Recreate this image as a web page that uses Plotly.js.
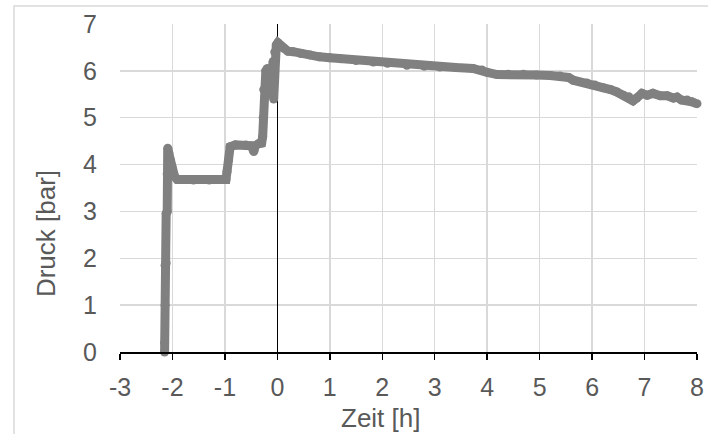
<!DOCTYPE html>
<html>
<head>
<meta charset="utf-8">
<script src="https://cdn.plot.ly/plotly-3.0.1.min.js"></script>
<style>html,body{margin:0;padding:0;background:#fff;}#chart{width:708px;height:434px;}</style>
</head>
<body>
<div id="chart"></div>
<script>
// Time in hours
const zeit = [
  -2.15, -2.15, -2.14, -2.14, -2.12, -2.12, -2.10, -2.10, -2.09, -2.07,
  -2.04, -2.01, -1.96, -1.91, -1.60, -1.30, -0.98, -0.96, -0.93, -0.90,
  -0.80, -0.60, -0.50, -0.45, -0.42, -0.35, -0.30, -0.28, -0.27, -0.26,
  -0.23, -0.22, -0.19, -0.17, -0.12, -0.08, -0.07, -0.05, -0.02, 0.01,
  0.05, 0.12, 0.20, 0.30, 0.45, 0.62, 0.80, 1.00, 1.20, 1.50,
  1.83, 2.10, 2.47, 2.80, 3.10, 3.40, 3.73, 3.90, 4.00, 4.19,
  4.40, 4.69, 4.94, 5.20, 5.39, 5.55, 5.64, 5.90, 6.05, 6.21,
  6.35, 6.47, 6.60, 6.70, 6.78, 6.85, 6.95, 7.05, 7.16, 7.30,
  7.43, 7.55, 7.62, 7.70, 7.81, 7.90, 8.00
];
// Pressure in bar
const druck = [
  0.00, 0.20, 1.00, 1.85, 1.90, 2.95, 3.00, 3.80, 4.35, 4.25,
  4.10, 3.95, 3.75, 3.68, 3.67, 3.67, 3.68, 3.85, 4.10, 4.38,
  4.42, 4.42, 4.40, 4.28, 4.40, 4.45, 4.46, 4.60, 5.00, 5.60,
  5.45, 6.00, 6.05, 5.50, 5.90, 6.20, 5.40, 6.40, 6.55, 6.60,
  6.55, 6.48, 6.42, 6.41, 6.37, 6.34, 6.30, 6.28, 6.26, 6.22,
  6.19, 6.16, 6.12, 6.10, 6.08, 6.07, 6.05, 6.02, 5.97, 5.92,
  5.93, 5.93, 5.91, 5.90, 5.89, 5.86, 5.80, 5.74, 5.70, 5.64,
  5.60, 5.55, 5.48, 5.45, 5.36, 5.42, 5.52, 5.48, 5.52, 5.47,
  5.47, 5.42, 5.44, 5.38, 5.38, 5.34, 5.30
];
const xTickVals = [-3, -2, -1, 0, 1, 2, 3, 4, 5, 6, 7, 8];
const xTickText = ['-3', '-2', '-1', '0', '1', '2', '3', '4', '5', '6', '7', '8'];
const yTickVals = [0, 1, 2, 3, 4, 5, 6, 7];
const yTickText = ['0', '1', '2', '3', '4', '5', '6', '7'];

const FONT = 'Liberation Sans, Arial, sans-serif';
const TXT = '#595959';

const trace = {
  x: zeit, y: druck, type: 'scatter', mode: 'lines+markers',
  line: {color: '#808080', width: 9},
  marker: {color: '#808080', size: 9},
  cliponaxis: false, hoverinfo: 'skip', showlegend: false
};

const layout = {
  width: 708, height: 434,
  margin: {l: 120, r: 11, t: 24, b: 82, pad: 0},
  paper_bgcolor: '#ffffff', plot_bgcolor: '#ffffff',
  font: {family: FONT, color: TXT, size: 25},
  showlegend: false,
  xaxis: {
    range: [-3, 8], tickmode: 'array', tickvals: xTickVals, ticktext: xTickText,
    showgrid: true, gridcolor: '#d9d9d9', gridwidth: 1.5,
    zeroline: true, zerolinecolor: '#000000', zerolinewidth: 1.5,
    showline: true, linecolor: '#000000', linewidth: 1.5,
    ticks: 'outside', ticklen: 6, tickwidth: 1.5, tickcolor: '#000000',
    tickfont: {family: FONT, size: 25, color: TXT},
    ticklabelstandoff: 6, fixedrange: true
  },
  yaxis: {
    range: [0, 7], tickmode: 'array', tickvals: yTickVals, ticktext: yTickText,
    showgrid: true, gridcolor: '#d9d9d9', gridwidth: 1.5,
    zeroline: false, showline: false, ticks: '',
    tickfont: {family: FONT, size: 25, color: TXT},
    ticklabelstandoff: 22, fixedrange: true
  },
  shapes: [
    {type: 'rect', xref: 'paper', yref: 'paper', x0: -0.1837, x1: 1.2, y0: -0.5, y1: 1.0549,
     line: {color: '#d9d9d9', width: 1.5}, fillcolor: 'rgba(0,0,0,0)', layer: 'below'}
  ],
  annotations: [
    {text: 'Druck [bar]', xref: 'paper', yref: 'paper', x: -0.128, y: 0.36,
     xanchor: 'center', yanchor: 'middle', textangle: -90, showarrow: false,
     font: {family: FONT, size: 26, color: TXT}},
    {text: 'Zeit [h]', xref: 'paper', yref: 'paper', x: 0.452, y: -0.201,
     xanchor: 'center', yanchor: 'middle', showarrow: false,
     font: {family: FONT, size: 26, color: TXT}}
  ]
};

Plotly.newPlot('chart', [trace], layout, {staticPlot: true, displayModeBar: false});
</script>
</body>
</html>
